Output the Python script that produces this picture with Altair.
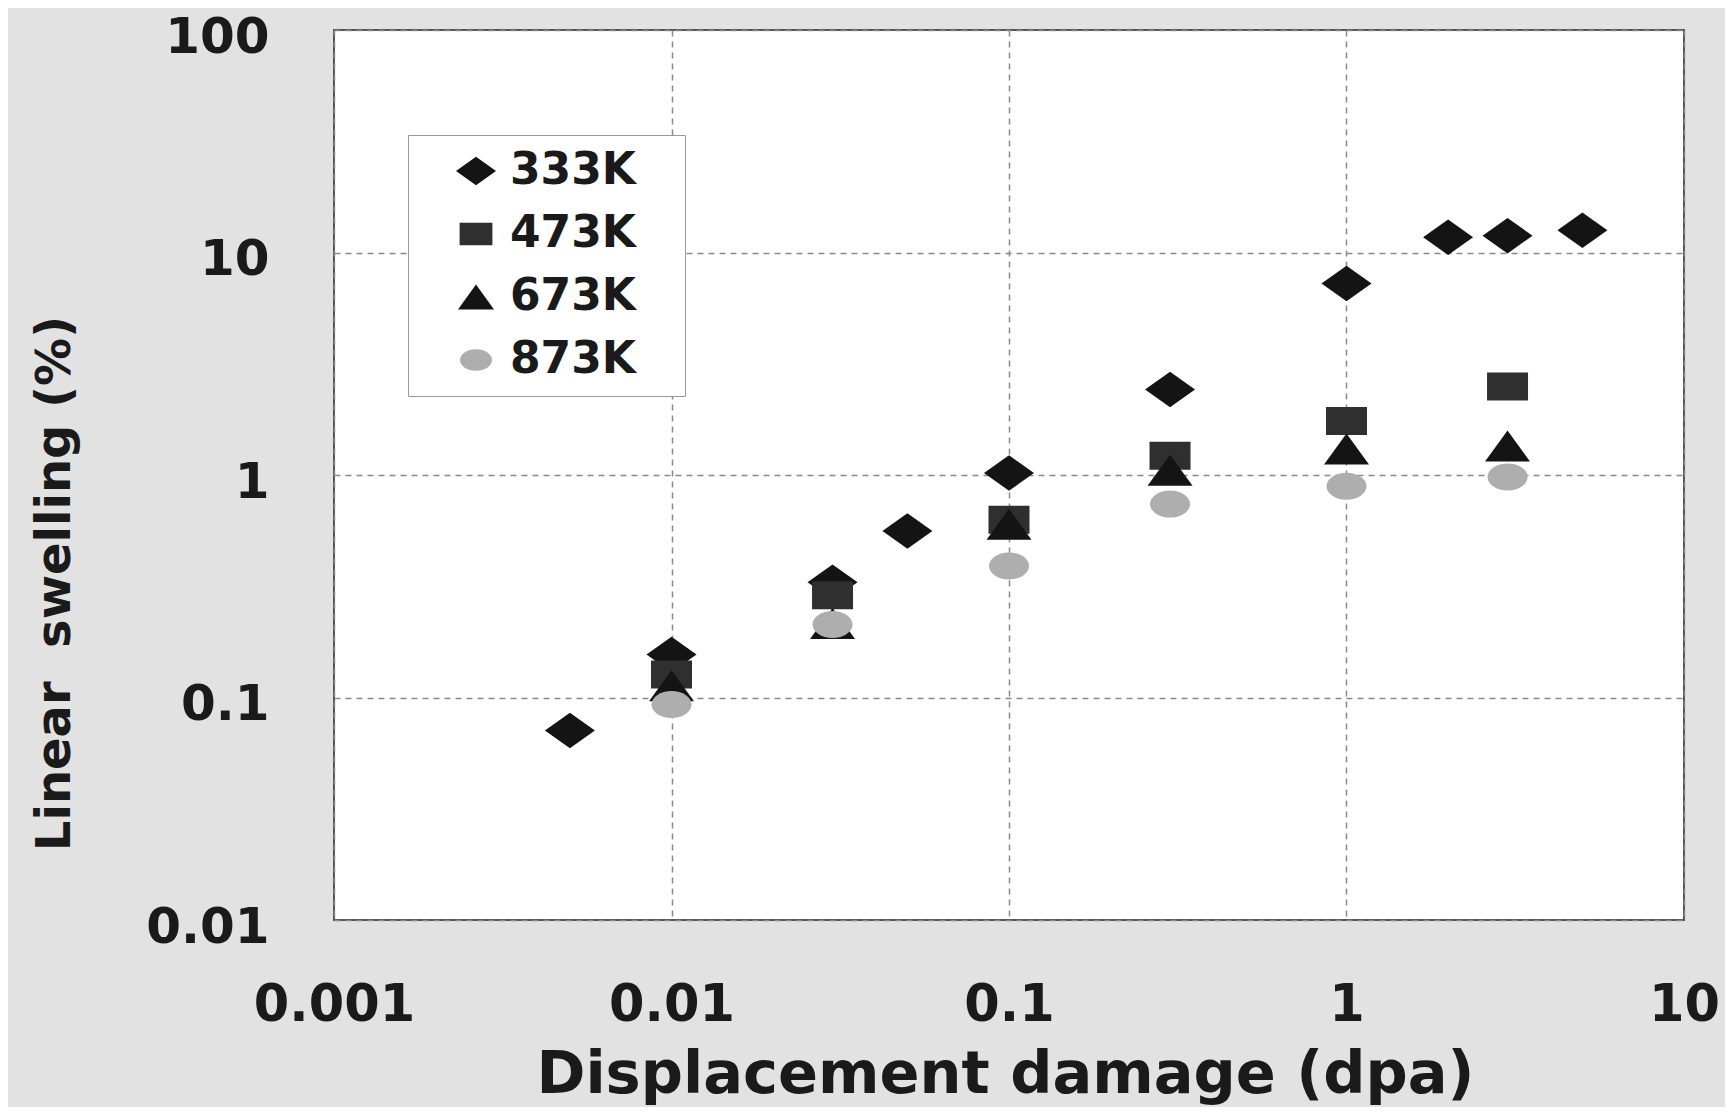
import altair as alt
import pandas as pd

series = ["333K", "473K", "673K", "873K"]

dpa_333 = [0.005, 0.01, 0.03, 0.05, 0.1, 0.3, 1.0, 2.0, 3.0, 5.0]
sw_333 = [0.071, 0.156, 0.33, 0.56, 1.02, 2.42, 7.25, 11.7, 11.9, 12.6]

dpa_473 = [0.01, 0.03, 0.1, 0.3, 1.0, 3.0]
sw_473 = [0.127, 0.288, 0.63, 1.22, 1.75, 2.5]

dpa_673 = [0.01, 0.03, 0.1, 0.3, 1.0, 3.0]
sw_673 = [0.113, 0.215, 0.6, 1.05, 1.31, 1.35]

dpa_873 = [0.01, 0.03, 0.1, 0.3, 1.0, 3.0]
sw_873 = [0.093, 0.213, 0.39, 0.74, 0.89, 0.98]

x_ticks = [0.001, 0.01, 0.1, 1, 10]
y_ticks = [0.01, 0.1, 1, 10, 100]

rows = []
for name, xs, ys in [("333K", dpa_333, sw_333), ("473K", dpa_473, sw_473),
                     ("673K", dpa_673, sw_673), ("873K", dpa_873, sw_873)]:
    for xv, yv in zip(xs, ys):
        rows.append({"series": name, "dpa": xv, "swelling": yv})
df = pd.DataFrame(rows)

# marker outlines (relative sizes built into the paths; one common symbol size)
diamond = "M-1,0L0,-0.71L1,0L0,0.71Z"
square = "M-0.82,-0.56L0.82,-0.56L0.82,0.56L-0.82,0.56Z"
triangle = "M0,-0.62L0.9,0.62L-0.9,0.62Z"
ellipse = "M-0.8,0A0.8,0.54,0,1,1,0.8,0A0.8,0.54,0,1,1,-0.8,0Z"

shape_range = [diamond, square, triangle, ellipse]
color_range = ["#141414", "#2f2f2f", "#141414", "#aeaeae"]

FONT = "DejaVu Sans"

legend = alt.Legend(
    title=None,
    orient="none",
    legendX=74,
    legendY=105,
    padding=14,
    fillColor="white",
    strokeColor="#9a9a9a",
    rowPadding=19,
    symbolSize=1600,
    symbolOffset=32,
    symbolStrokeWidth=0,
    labelOffset=12,
    labelLimit=0,
    labelFont=FONT,
    labelFontSize=44,
    labelFontWeight="bold",
    labelColor="#1a1a1a",
    labelExpr="datum.label + '\u2800'",
)

chart = alt.Chart(df).mark_point(filled=True, opacity=1, strokeWidth=0, size=2500).encode(
    x=alt.X(
        "dpa:Q",
        scale=alt.Scale(type="log", domain=[0.001, 10], nice=False),
        axis=alt.Axis(
            values=x_ticks,
            format="~g",
            labelFont=FONT,
            labelFontSize=51,
            labelFontWeight="bold",
            labelColor="#1a1a1a",
            labelPadding=60,
            labelFlush=False,
            ticks=False,
            domain=False,
            grid=True,
            gridDash=[6, 5],
            gridColor="#8a8a8a",
            gridWidth=1.5,
            title="Displacement damage (dpa)",
            titleFont=FONT,
            titleFontSize=59,
            titleFontWeight="bold",
            titleColor="#1a1a1a",
            titleX=671,
            titleY=172,
            titleBaseline="alphabetic",
            titleAlign="center",
        ),
    ),
    y=alt.Y(
        "swelling:Q",
        scale=alt.Scale(type="log", domain=[0.01, 100], nice=False),
        axis=alt.Axis(
            values=y_ticks,
            format="~g",
            labelFont=FONT,
            labelFontSize=50,
            labelFontWeight="bold",
            labelColor="#1a1a1a",
            labelPadding=65,
            labelBaseline="alphabetic",
            labelOffset=22,
            labelFlush=False,
            ticks=False,
            domain=False,
            grid=True,
            gridDash=[6, 5],
            gridColor="#8a8a8a",
            gridWidth=1.5,
            title="Linear\u00a0 swelling (%)",
            titleFont=FONT,
            titleFontSize=48,
            titleFontWeight="bold",
            titleColor="#1a1a1a",
            titleX=-279,
            titleY=553,
            titleAngle=-90,
            titleBaseline="middle",
            titleAlign="center",
        ),
    ),
    shape=alt.Shape("series:N", scale=alt.Scale(domain=series, range=shape_range), legend=legend),
    color=alt.Color("series:N", scale=alt.Scale(domain=series, range=color_range), legend=legend),
).properties(
    width=1350,
    height=890,
    autosize=alt.AutoSizeParams(type="none"),
    padding={"left": 326, "top": 22, "right": 41, "bottom": 187},
    background="#e2e2e2",
).configure_view(
    stroke="#555555",
    strokeWidth=2,
    fill="white",
)

chart.save("out.html", embed_options={"renderer": "svg", "actions": False})
